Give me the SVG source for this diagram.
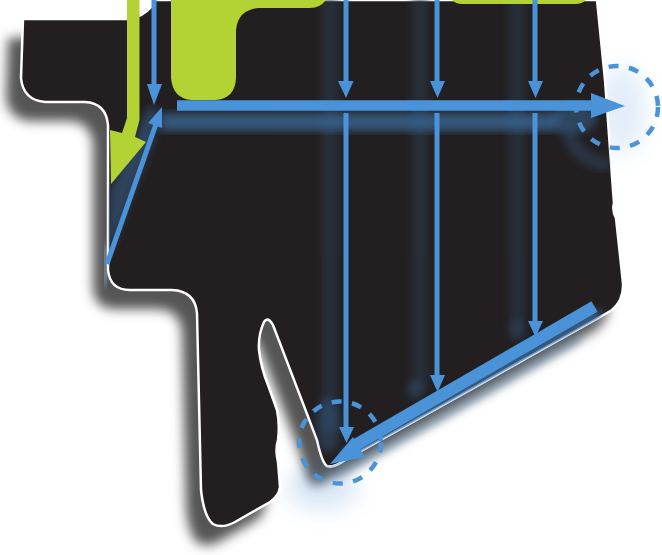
<svg xmlns="http://www.w3.org/2000/svg" width="662" height="555" viewBox="0 0 662 555">
<defs>
<style>
.ln{fill:none;stroke:#4a93d9;stroke-width:5}
.thick{fill:none;stroke:#4a93d9;stroke-width:10.5}
.diag{fill:none;stroke:#4a93d9;stroke-width:12}
.head{fill:#4a93d9}
.ring{fill:none;stroke:#4a93d9;stroke-width:4.5;stroke-dasharray:10 10.5}
.green{fill:#b3d335}
.strip{fill:#2c3c50;opacity:.55}
</style>
<filter id="b8" x="-30%" y="-30%" width="160%" height="160%"><feGaussianBlur stdDeviation="6"/></filter>
<filter id="b5" x="-100%" y="-20%" width="300%" height="140%"><feGaussianBlur stdDeviation="4"/></filter>
<filter id="b10" x="-60%" y="-60%" width="220%" height="220%"><feGaussianBlur stdDeviation="10"/></filter>
<path id="outline" d="M23 19 L128 19 Q143 17 152 6 L152 0 L597 0 L605 80 L613 190 L614 203 Q612 211 616 218 L623 283 Q624 300 612 310 L600 317 L345 460 Q334 468 327 466 Q322 463 317 440 L273 325 Q268 316 264 322 Q258 335 259 350 Q261 368 268 385 L277 410 Q280 425 278 440 Q275 450 278 462 L280 487 Q279 496 270 502 L235 522 Q222 529 213 524 Q204 517 201 490 L197 313 Q195 291 172 290 L130 290 Q110 290 108 270 L108 125 Q106 103 85 102 L45 102 Q23 100 21 78 Z"/>
<clipPath id="bodyClip"><use href="#outline"/></clipPath>
</defs>

<g id="body">
<use href="#outline" fill="#555555" transform="translate(-15 19)" filter="url(#b8)"/>
<g filter="url(#b10)">
<ellipse cx="322" cy="488" rx="36" ry="22" fill="#4a93d9" opacity=".2"/>
<ellipse cx="622" cy="110" rx="24" ry="44" fill="#4a93d9" opacity=".16"/>
</g>
<use href="#outline" fill="#231f20" stroke="#ffffff" stroke-width="2.5"/>
<path d="M327 466 Q334 468 345 460 L600 317" fill="none" stroke="#c4dcf2" stroke-width="2"/>
</g>

<g id="glows" clip-path="url(#bodyClip)">
<rect class="strip" x="322" y="-20" width="16" height="450" filter="url(#b5)"/>
<rect class="strip" x="412" y="-20" width="16" height="410" filter="url(#b5)"/>
<rect class="strip" x="509" y="-20" width="16" height="345" filter="url(#b5)"/>
<rect x="160" y="113" width="400" height="18" fill="#3a6a9a" opacity=".75" filter="url(#b5)"/>
<path d="M105 265 L155 135 L158 108 L148 108 L110 190 Z" fill="#3a6a9a" opacity=".5" filter="url(#b5)"/>
<path d="M565 125 Q575 162 610 165" fill="none" stroke="#3a6a9a" stroke-width="14" opacity=".3" filter="url(#b5)"/>
<ellipse cx="575" cy="118" rx="22" ry="15" fill="#3a6a9a" opacity=".5" filter="url(#b5)"/>
<ellipse cx="415" cy="390" rx="8" ry="10" fill="#3a6fa3" opacity=".35" filter="url(#b5)"/>
<ellipse cx="517" cy="330" rx="8" ry="10" fill="#3a6fa3" opacity=".35" filter="url(#b5)"/>
<ellipse cx="328" cy="425" rx="12" ry="28" fill="#3a6fa3" opacity=".35" filter="url(#b5)"/>
<path d="M345 458 L600 314" fill="none" stroke="#3f76ad" stroke-width="12" opacity=".8" filter="url(#b5)"/>
</g>
<path d="M105 285 L106 245" stroke="#8fbbe3" stroke-width="10" opacity=".5" filter="url(#b5)" fill="none"/>
<path d="M335 474 Q350 470 580 338" stroke="#3f76ad" stroke-width="5" opacity=".55" filter="url(#b5)" fill="none"/>

<g id="green-shapes">
<path class="green" d="M171 0 L171 78 Q173 99 192 100 L215 100 Q235 99 236 78 L236 30 Q238 10 258 8 L310 8 Q320 8 326 0 Z"/>
<path class="green" d="M452 0 Q456 4 462 4 L575 4 Q582 4 586 0 Z"/>
<path class="green" d="M127 0 L127 118 L122 133 L110 130 L111 184 L146 142 L135 137 L139.500 120 L139.500 0 Z"/>
</g>

<g id="connectors">
<path class="ln" d="M154 0 V86"/>
<path class="head" d="M147 84 H162 L154 105 Z"/>
<path class="ln" d="M107 264 L156 124"/>
<path class="head" d="M148 123 L162 128 V107 Z"/>
<path class="thick" d="M177 105.500 H595"/>
<path class="head" d="M591 93 L625 106 L591 118 Z"/>
<path class="ln" d="M346 0 V84 M437 0 V84 M535 0 V84"/>
<path class="head" d="M338 81 H353.500 L346 98 Z M430 81 H445 L437.500 98 Z M528 81 H543 L535.500 98 Z"/>
<path class="ln" d="M346 113 V430 M437 113 V378 M535 113 V324"/>
<path class="head" d="M339 427 H354 L346.500 443 Z M430 375 H445 L437.500 392 Z M528 321 H543 L535.500 337 Z"/>
<path class="diag" d="M594.500 306.500 L352 447"/>
<path class="head" d="M330 464 L353 437 L365 457 Z"/>
</g>

<g id="ring-right"><circle class="ring" cx="617" cy="107" r="41"/></g>
<g id="ring-bottom"><circle class="ring" cx="340" cy="442.500" r="41"/></g>
</svg>
